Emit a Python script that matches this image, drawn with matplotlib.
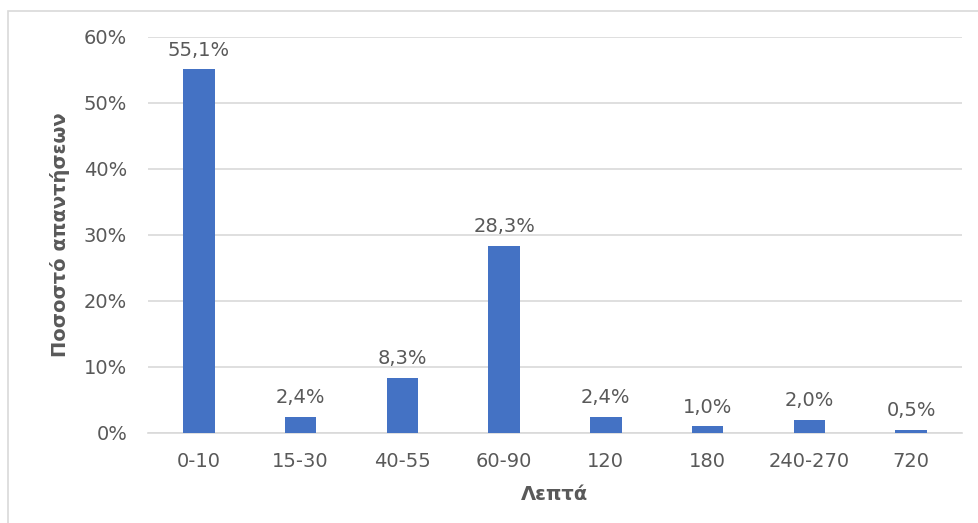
import matplotlib
matplotlib.use("Agg")
import matplotlib.pyplot as plt
from matplotlib.patches import Rectangle
from matplotlib.ticker import FuncFormatter, MultipleLocator

categories = ["0-10", "15-30", "40-55", "60-90", "120", "180", "240-270", "720"]
values = [55.1, 2.4, 8.3, 28.3, 2.4, 1.0, 2.0, 0.5]
value_labels = ["55,1%", "2,4%", "8,3%", "28,3%", "2,4%", "1,0%", "2,0%", "0,5%"]
y_label = "Ποσοστό απαντήσεων"
x_label = "Λεπτά"

plt.rcParams['font.family'] = ['DejaVu Sans']
gray = "#595959"
FS = 14

W, H = 979, 523
fig = plt.figure(figsize=(W / 100, H / 100), dpi=100)
fig.patch.set_facecolor("white")

# chart frame (clipped at right and bottom)
fig.patches.append(Rectangle((8 / W, -0.05), 1.2, 1 - 11 / H + 0.05,
                             transform=fig.transFigure, fill=False,
                             edgecolor="#d9d9d9", linewidth=1.2))

left, right = 148 / W, 962 / W
bottom, top = 1 - 433 / H, 1 - 37 / H
ax = fig.add_axes([left, bottom, right - left, top - bottom])

x = list(range(len(categories)))
ax.bar(x, values, width=0.31, color="#4472C4", zorder=3)
ax.set_xlim(-0.5, len(categories) - 0.5)
ax.set_ylim(0, 60)
ax.yaxis.set_major_locator(MultipleLocator(10))
ax.yaxis.set_major_formatter(FuncFormatter(lambda v, p: f"{v:.0f}%"))
ax.grid(axis="y", color="#d9d9d9", linewidth=1.2, zorder=0)
for s in ["top", "right", "left"]:
    ax.spines[s].set_visible(False)
ax.spines["bottom"].set_color("#d9d9d9")
ax.spines["bottom"].set_linewidth(1.2)
ax.tick_params(axis="both", length=0, labelsize=FS, labelcolor=gray)
ax.tick_params(axis="y", pad=15)
ax.tick_params(axis="x", pad=14)
ax.set_xticks(x)
ax.set_xticklabels(categories)

for xi, v, lab in zip(x, values, value_labels):
    ax.annotate(lab, (xi, v), xytext=(0, 7), textcoords="offset points",
                ha="center", va="bottom", fontsize=FS, color=gray)

ax.set_ylabel(y_label, fontsize=FS, fontweight="bold", color=gray, labelpad=10)
ax.set_xlabel(x_label, fontsize=FS, fontweight="bold", color=gray, labelpad=10)

fig.savefig("out.png", dpi=100, facecolor="white")
